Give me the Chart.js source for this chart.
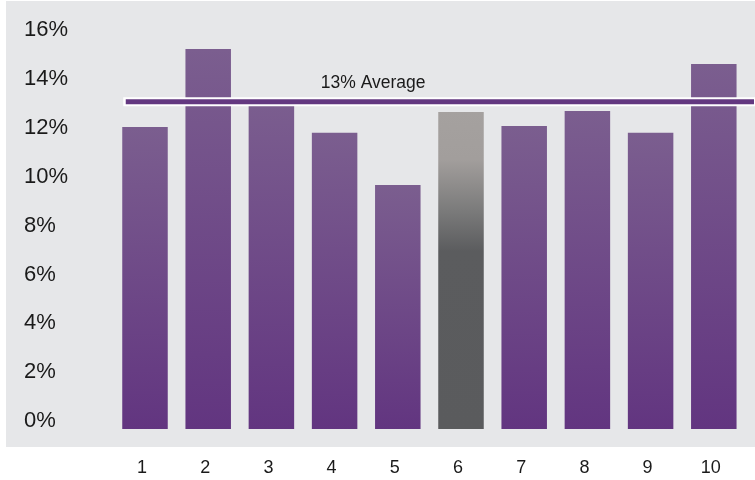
<!DOCTYPE html>
<html><head><meta charset="utf-8">
<script src="https://cdn.jsdelivr.net/npm/chart.js@4.4.1/dist/chart.umd.min.js"></script>
<style>html,body{margin:0;padding:0;background:#fff;}#wrap{width:755px;height:480px;}</style>
</head><body><div id="wrap"><canvas id="c" width="755" height="480"></canvas></div>
<script>
const categories = ['1','2','3','4','5','6','7','8','9','10'];
const shares = [12.02, 15.20, 13.20, 11.78, 9.65, 12.63, 12.06, 12.67, 11.78, 14.59];
const barBase = -0.31;
const averageValue = 13.05;
const averageLabel = '13% Average';
const highlightIndex = 5;
const yTicks = [0, 2, 4, 6, 8, 10, 12, 14, 16];

const FONT = '"Liberation Sans", Arial, Helvetica, sans-serif';
const PANEL = '#e6e7e9';

function barFill(ctx) {
  const chart = ctx.chart;
  if (!chart.chartArea || ctx.type !== 'data') return '#6d4a88';
  const y = chart.scales.y;
  const top = y.getPixelForValue(shares[ctx.dataIndex]);
  const bot = y.getPixelForValue(barBase);
  const g = chart.ctx.createLinearGradient(0, top, 0, bot);
  if (ctx.dataIndex === highlightIndex) {
    g.addColorStop(0, '#a5a19f');
    g.addColorStop(0.15, '#a29e9c');
    g.addColorStop(0.31, '#7b7b7b');
    g.addColorStop(0.44, '#5b5c5e');
    g.addColorStop(1, '#5a5b5d');
  } else {
    g.addColorStop(0, '#7b5e8f');
    g.addColorStop(1, '#623580');
  }
  return g;
}

const panelPlugin = {
  id: 'panel',
  beforeDraw(chart) {
    const c = chart.ctx;
    c.save();
    c.fillStyle = '#ffffff';
    c.fillRect(0, 0, chart.width, chart.height);
    c.fillStyle = PANEL;
    c.fillRect(6, 1, chart.width - 6, 446);
    c.restore();
  }
};

const averagePlugin = {
  id: 'average',
  afterDatasetsDraw(chart) {
    const c = chart.ctx;
    const x = chart.scales.x, y = chart.scales.y;
    const meta = chart.getDatasetMeta(0);
    const first = meta.data[0];
    const left = first.x - first.width / 2;
    const yy = y.getPixelForValue(averageValue);
    c.save();
    c.fillStyle = '#ffffff';
    c.fillRect(left + 1, yy - 4.5, chart.width - left - 1, 9);
    c.fillStyle = '#633880';
    c.fillRect(left + 3.5, yy - 2.5, chart.width - left - 4.5, 5);
    c.fillStyle = '#1a1a1a';
    c.font = '17.5px ' + FONT;
    c.textAlign = 'center';
    c.textBaseline = 'alphabetic';
    c.fillText(averageLabel, x.getPixelForValue(3.61), yy - 14);
    c.restore();
  }
};

new Chart(document.getElementById('c'), {
  type: 'bar',
  data: {
    labels: categories,
    datasets: [{
      data: shares,
      base: barBase,
      backgroundColor: barFill,
      borderWidth: 0,
      categoryPercentage: 1,
      barPercentage: 0.72
    }]
  },
  options: {
    responsive: false,
    animation: false,
    events: [],
    layout: { padding: { left: 24, right: 9.6, top: 5, bottom: 0 } },
    plugins: { legend: { display: false }, tooltip: { enabled: false } },
    scales: {
      x: {
        grid: { display: false, drawTicks: false },
        border: { display: false },
        afterFit(s) { s.height = 51; s.paddingLeft = 0; s.paddingRight = 0; },
        ticks: { color: '#1a1a1a', font: { family: FONT, size: 18 }, padding: 28, labelOffset: -3, maxRotation: 0, autoSkip: false }
      },
      y: {
        min: barBase,
        max: 17,
        grid: { display: false, drawTicks: false },
        border: { display: false },
        afterFit(s) { s.width = 89.4; s.paddingTop = 0; s.paddingBottom = 0; },
        afterBuildTicks(s) { s.ticks = yTicks.map(v => ({ value: v })); },
        ticks: { color: '#1a1a1a', font: { family: FONT, size: 22 }, crossAlign: 'far', padding: 0, callback: v => v + '%' }
      }
    }
  },
  plugins: [panelPlugin, averagePlugin]
});
</script></body></html>
